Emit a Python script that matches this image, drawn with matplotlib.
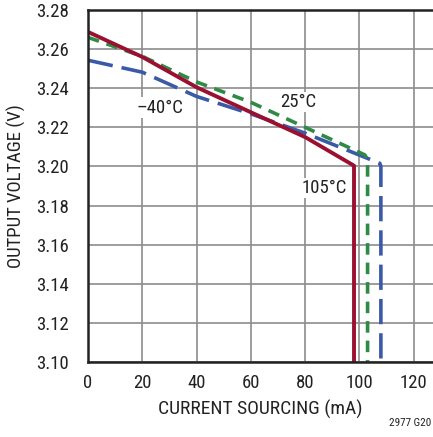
import matplotlib
matplotlib.use("Agg")
import matplotlib.pyplot as plt
from matplotlib import font_manager

# ---- data ----
x_105 = [0, 20, 40, 60, 80, 98, 98]
y_105 = [3.2688, 3.2560, 3.2405, 3.2277, 3.2150, 3.2004, 3.10]

x_25 = [0, 20, 40, 60, 80, 102, 103, 103]
y_25 = [3.2660, 3.2563, 3.2432, 3.2328, 3.2200, 3.2059, 3.2035, 3.10]

x_m40 = [0, 20, 40, 60, 80, 107.5, 107.9, 107.9]
y_m40 = [3.2543, 3.2482, 3.2358, 3.2269, 3.2170, 3.2016, 3.2000, 3.10]

x_ticks = [0, 20, 40, 60, 80, 100, 120]
y_ticks = [3.10, 3.12, 3.14, 3.16, 3.18, 3.20, 3.22, 3.24, 3.26, 3.28]

names = set(f.name for f in font_manager.fontManager.ttflist)
fam = "DejaVu Sans"
for cand in ["Roboto Condensed", "Archivo Narrow", "IBM Plex Sans Condensed", "Fira Sans Condensed"]:
    if cand in names:
        fam = cand
        break
plt.rcParams['font.family'] = [fam, 'DejaVu Sans']

fig = plt.figure(figsize=(4.33, 4.37), dpi=100)
ax = fig.add_axes([88/433, 75/437, 1 - 88/433, (362-10)/437])

ax.set_xlim(0, 127.1)
ax.set_ylim(3.10, 3.28)
ax.set_xticks(x_ticks)
ax.set_yticks(y_ticks)
ax.set_yticklabels([f"{v:.2f}" for v in y_ticks])
ax.grid(True, color="#8c8c8c", linewidth=1.2)
ax.set_axisbelow(True)
ax.tick_params(length=0, labelsize=13.5, pad=9, colors="#222222")
ax.tick_params(axis='y', pad=14)
for s in ["left", "bottom", "top"]:
    ax.spines[s].set_linewidth(1.8)
    ax.spines[s].set_color("#222222")
ax.spines["right"].set_visible(False)

ax.plot(x_m40, y_m40, color="#3a5aa8", linewidth=2.6, dashes=(7, 2.5))
ax.plot(x_25, y_25, color="#2e8a45", linewidth=2.6, dashes=(3.2, 2.2))
ax.plot(x_105, y_105, color="#9a1030", linewidth=2.8)

bb = dict(facecolor="white", edgecolor="none", pad=1)
ax.text(26.5, 3.2300, "\u201340\u00b0C", fontsize=13.5, ha="center", va="center", bbox=bb, color="#222222")
ax.text(77.3, 3.2330, "25\u00b0C", fontsize=13.5, ha="center", va="center", bbox=bb, color="#222222")
ax.text(87.0, 3.1890, "105\u00b0C", fontsize=13.5, ha="center", va="center", bbox=bb, color="#222222")

ax.set_xlabel("CURRENT SOURCING (mA)", fontsize=14, labelpad=5, color="#222222")
ax.set_ylabel("OUTPUT VOLTAGE (V)", fontsize=13.5, labelpad=7, color="#222222")

fig.text(431/433, 1 - 423/437, "2977 G20", fontsize=8, ha="right", va="center", color="#222222")

fig.savefig("out.png", dpi=100)
